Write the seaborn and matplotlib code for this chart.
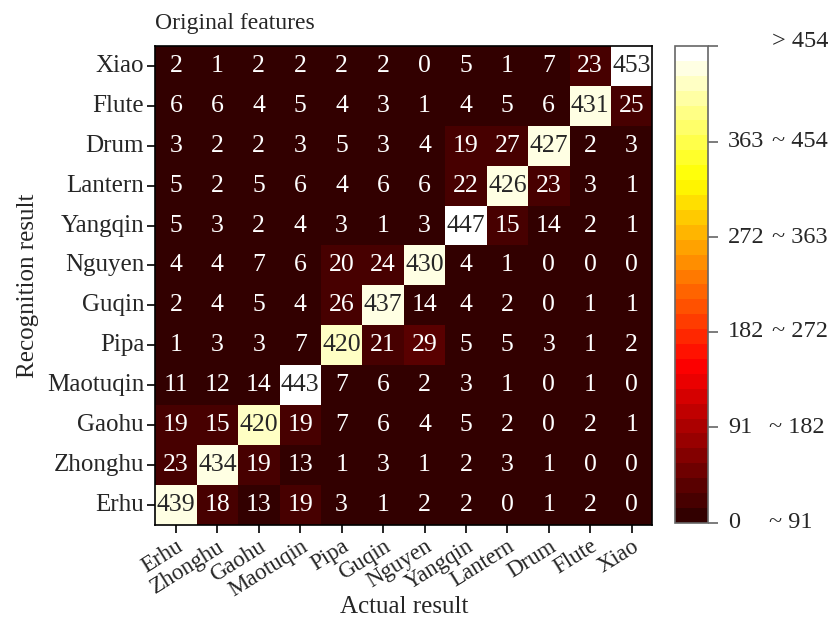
import numpy as np
import pandas as pd
import matplotlib
matplotlib.use("Agg")
import matplotlib.pyplot as plt
from matplotlib.colors import ListedColormap
import seaborn as sns

actual = ["Erhu", "Zhonghu", "Gaohu", "Maotuqin", "Pipa", "Guqin",
          "Nguyen", "Yangqin", "Lantern", "Drum", "Flute", "Xiao"]
recognized = ["Xiao", "Flute", "Drum", "Lantern", "Yangqin", "Nguyen",
              "Guqin", "Pipa", "Maotuqin", "Gaohu", "Zhonghu", "Erhu"]

counts = [
    [2, 1, 2, 2, 2, 2, 0, 5, 1, 7, 23, 453],
    [6, 6, 4, 5, 4, 3, 1, 4, 5, 6, 431, 25],
    [3, 2, 2, 3, 5, 3, 4, 19, 27, 427, 2, 3],
    [5, 2, 5, 6, 4, 6, 6, 22, 426, 23, 3, 1],
    [5, 3, 2, 4, 3, 1, 3, 447, 15, 14, 2, 1],
    [4, 4, 7, 6, 20, 24, 430, 4, 1, 0, 0, 0],
    [2, 4, 5, 4, 26, 437, 14, 4, 2, 0, 1, 1],
    [1, 3, 3, 7, 420, 21, 29, 5, 5, 3, 1, 2],
    [11, 12, 14, 443, 7, 6, 2, 3, 1, 0, 1, 0],
    [19, 15, 420, 19, 7, 6, 4, 5, 2, 0, 2, 1],
    [23, 434, 19, 13, 1, 3, 1, 2, 3, 1, 0, 0],
    [439, 18, 13, 19, 3, 1, 2, 2, 0, 1, 2, 0],
]

cbar_ticks = [0, 91, 182, 272, 363, 454]
cbar_left = ["0", "91", "182", "272", "363"]
cbar_right = ["~ 91", "~ 182", "~ 272", "~ 363", "~ 454"]

df = pd.DataFrame(counts, index=recognized, columns=actual)

sns.set_style("white")
plt.rcParams["font.family"] = ["Liberation Serif", "DejaVu Serif"]

cmap = ListedColormap(plt.cm.hot(np.linspace(0.06, 1.0, 32)))

fig = plt.figure(figsize=(8.3, 6.21), dpi=100)
ax = fig.add_axes([0.187, 0.155, 0.599, 0.771])
cax = fig.add_axes([0.813, 0.158, 0.040, 0.768])

sns.heatmap(df, ax=ax, cbar_ax=cax, cmap=cmap, vmin=0, vmax=454,
            annot=True, fmt="d", annot_kws={"fontsize": 18.5},
            linewidths=0, square=False)

for s in ax.spines.values():
    s.set_visible(True)
    s.set_color("black")
    s.set_linewidth(1.2)

ax.tick_params(axis="both", which="both", direction="out", length=6,
               width=1.2, color="black", left=True, bottom=True, pad=2)
ax.set_yticklabels(recognized, rotation=0, fontsize=18)
ax.set_xticklabels(actual, rotation=32, ha="right", va="top",
                   rotation_mode="anchor", fontsize=16.5)
ax.set_xlabel("Actual result", fontsize=18)
ax.xaxis.set_label_coords(0.5, -0.148)
ax.set_ylabel("Recognition result", fontsize=18, labelpad=6)
ax.set_title("Original features", loc="left", fontsize=17, pad=12)

# colorbar labels
cb = ax.collections[0].colorbar
cb.outline.set_edgecolor("#666666")
cb.outline.set_linewidth(1.2)
cb.set_ticks(cbar_ticks)
cb.set_ticklabels([""] * len(cbar_ticks))
cax.tick_params(length=7, width=1.2, color="#666666", right=True)
tr = cax.get_yaxis_transform()
for v, lt, rt in zip(cbar_ticks[:-1], cbar_left, cbar_right):
    cax.text(1.6, v, lt, transform=tr, ha="left", va="center", fontsize=17.5)
    x_r = 2.92 if len(lt) == 3 else 2.85
    cax.text(x_r, v, rt, transform=tr, ha="left", va="center", fontsize=17.5)
cax.text(2.92, cbar_ticks[-1] + 4, "> 454", transform=tr, ha="left",
         va="center", fontsize=17.5)

fig.savefig("out.png", dpi=100)
